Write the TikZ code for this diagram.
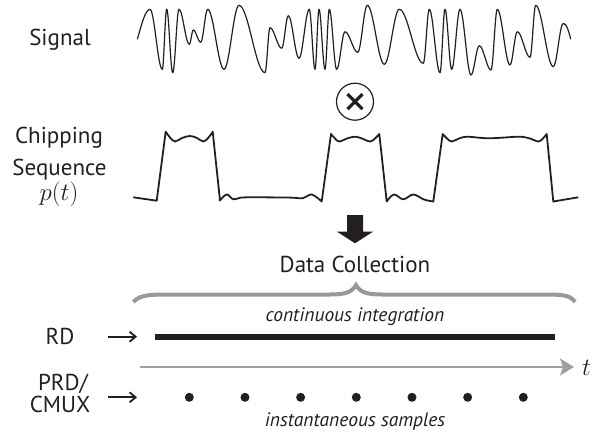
\documentclass[tikz,border=0pt]{standalone}
\usepackage{fontspec}
\setmainfont{PT Sans}
\usetikzlibrary{arrows.meta}
\definecolor{ink}{RGB}{35,31,32}
\definecolor{bracegray}{RGB}{152,152,152}
\definecolor{axisgray}{RGB}{160,160,160}
\begin{document}
\begin{tikzpicture}[x=1pt,y=-1pt,
  lbl/.style={font=\fontsize{23}{30}\selectfont, text=ink, inner sep=0pt},
  note/.style={font=\itshape\fontsize{19.5}{22}\selectfont, text=ink, inner sep=0pt},
  wave/.style={draw=ink, line width=1.2pt, line join=round},
  chipwave/.style={draw=ink, line width=1.8pt, line join=round},
  pointer/.style={draw=ink, line width=1.8pt, -{Straight Barb[length=6pt,width=10pt]}},
  sample/.style={circle, fill=ink, inner sep=0pt, minimum size=9pt}]
\useasboundingbox (0,0) rectangle (595,431);

% left-hand labels
\node[lbl] (sig) at (60,40) {Signal};
\node[lbl, anchor=base] (chipA) at (59,143.3) {Chipping};
\node[lbl, anchor=base] (chipB) at (59.5,175) {Sequence};
\node[text=ink, inner sep=0pt, anchor=base, font=\fontsize{32}{36}\selectfont] (pt) at (59,200) {$p(t)$};
\node[lbl, anchor=base] (rd) at (60,344) {RD};
\node[lbl, anchor=base east] (prd) at (88,390) {PRD/};
\node[lbl, anchor=base east] (cmux) at (90.5,412.3) {CMUX};

% input signal
\draw[wave] (137.3,39.3) .. controls (141,27) and (145,9.3) .. (150,9.3)
  foreach \px/\py [remember=\px as \lx (initially 150), remember=\py as \ly (initially 9.3)] in
  {162.3/69.3, 166.7/9.3, 172.7/72.7, 179/9.3, 189.3/44.3, 193.3/30, 200.7/42.3,
   207.7/9.3, 224/69.3, 239/5.3, 265/72.7, 270/27.7, 281.7/48.3, 288.3/15.7,
   299/58.3, 309.3/9.3, 315/69.3, 319/9.3, 325/69.3, 329.3/9.3, 336.7/69.3,
   345/31.7, 357.7/52.3, 367.3/5.3, 384.3/64.3, 399.3/9.3, 423.3/63.3, 429.3/9.3,
   440/72.7, 445/9.3, 451.7/69.3, 460/9.3, 471/75, 479.3/45.7, 491/70, 497.3/9.3,
   510/65, 517.3/31.7, 530/57.3, 535.7/5.3, 553.3/66.7, 563.3/23.3}
  { .. controls ({\lx+0.36*(\px-\lx)},\ly) and ({\px-0.36*(\px-\lx)},\py) .. (\px,\py) }
  .. controls (566.5,23.3) and (569,32) .. (570.7,39.3);

% multiplier
\node[draw=ink, circle, line width=1.2pt, minimum size=37pt, inner sep=0pt] (mult) at (355,101.7) {};
\draw[ink, line width=3.2pt] (mult.center) ++(-7.5,-7.5) -- ++(15,15);
\draw[ink, line width=3.2pt] (mult.center) ++(7.5,-7.5) -- ++(-15,15);

% chipping sequence
\draw[chipwave] (133.3,197.3) -- (156.7,200.7)
  -- plot[smooth, tension=0.6] coordinates {(165.7,131.7) (170,137.5) (175,141.5) (182,138) (190,136) (197,138) (203.3,141.5) (208.5,137.5) (212.7,131.7)}
  -- plot[smooth, tension=0.6] coordinates {(220,200.5) (226.7,194.5) (233.3,199.3) (241,197.6) (255,197.3) (290,197.6) (303,198.2) (311.7,194.5) (321.7,201.5)}
  -- plot[smooth, tension=0.6] coordinates {(331,134) (335,138.5) (339.3,141.5) (347,138.5) (355,136.7) (362,138.5) (370,141.5) (375,138.5) (379.3,134)}
  -- plot[smooth, tension=0.6] coordinates {(386.7,201.5) (394,194.5) (403.3,199.3) (413.3,194.5) (424,199.5) (433.3,201.5)}
  -- plot[smooth, tension=0.6] coordinates {(442.7,134) (447,138.5) (451.7,141.5) (459,138.5) (466.7,136.7) (480,137.8) (490,138.3) (505,137.5) (520,136.7) (530,138.5) (538.3,141.5) (543,138.5) (546.7,134)}
  -- (553.3,201.5) -- (578.3,197.3);

% block arrow and caption
\fill[ink] (347,215) -- (363,215) -- (363,231.7) -- (373,231.7) -- (355,243.3)
  -- (337,231.7) -- (347,231.7) -- cycle;
\node[lbl, anchor=base] (dc) at (355,272.5) {Data Collection};

% grey brace
\draw[bracegray, line width=4pt] (133.3,302) .. controls (140,294.5) and (150,294.5) .. (175,294.5)
  -- (330,294.5) .. controls (346,294.5) and (352,292) .. (356,285)
  .. controls (360,292) and (366,294.5) .. (382,294.5)
  -- (538,294.5) .. controls (562,294.5) and (570,294.5) .. (575,302);

% RD: continuous integration
\node[note, anchor=base] (ci) at (355,321) {continuous integration};
\coordinate (rdtail) at (108,336.7);
\coordinate (rdhead) at (137,336.7);
\draw[pointer] (rdtail) -- (rdhead);
\coordinate (barL) at (155,336.7);
\coordinate (barR) at (555,336.7);
\draw[ink, line width=6pt] (barL) -- (barR);

% time axis
\coordinate (tax0) at (140,367);
\coordinate (tax1) at (574,367);
\draw[axisgray, line width=2pt, -{Stealth[length=14pt,width=17pt,inset=3pt]}] (tax0) -- (tax1);
\node[text=ink, anchor=west, inner sep=0pt, font=\fontsize{24}{28}\selectfont] (tlabel) at (582,368) {$t$};

% PRD/CMUX: instantaneous samples
\coordinate (smtail) at (108,397.3);
\coordinate (smhead) at (137,397.3);
\draw[pointer] (smtail) -- (smhead);
\foreach \k in {0,...,6}
  \node[sample] (s\k) at ({189.3+55.67*\k},397.3) {};
\node[note, anchor=base] (is) at (355,426) {instantaneous samples};
\end{tikzpicture}
\end{document}
